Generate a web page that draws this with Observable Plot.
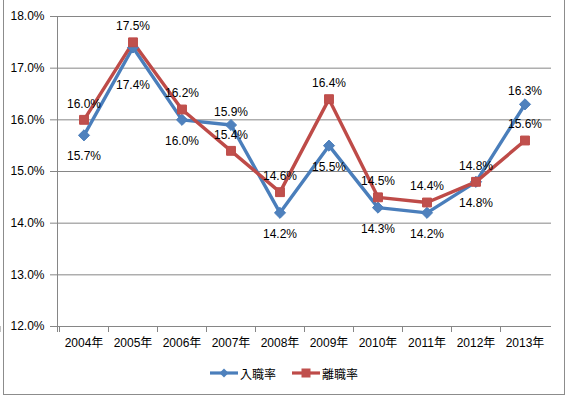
<!DOCTYPE html>
<html><head><meta charset="utf-8">
<script src="https://cdn.jsdelivr.net/npm/d3@7"></script>
<script src="https://cdn.jsdelivr.net/npm/@observablehq/plot@0.6"></script>
<style>
body{margin:0;background:#fff;}
#wrap{position:relative;width:569px;height:396px;overflow:hidden;font-family:"Liberation Sans","Noto Sans CJK JP",sans-serif;}
#chart{position:absolute;left:0;top:0;}
#frame{position:absolute;left:3px;top:-2px;width:562px;height:397px;border:1px solid #8c8c8c;box-sizing:border-box;z-index:5;pointer-events:none;}
#legend{position:absolute;top:364px;left:0;width:569px;height:18px;font-size:12px;color:#000;z-index:4;}
.li{position:absolute;top:0;display:flex;align-items:center;height:18px;}
</style></head>
<body><div id="wrap"><div id="chart"></div><div id="legend"></div><div id="frame"></div></div>
<script>
const years = ["2004年","2005年","2006年","2007年","2008年","2009年","2010年","2011年","2012年","2013年"];
const nyushoku = [15.7,17.4,16.0,15.9,14.2,15.5,14.3,14.2,14.8,16.3];
const rishoku = [16.0,17.5,16.2,15.4,14.6,16.4,14.5,14.4,14.8,15.6];
const nyushokuLabelPos = ["below","far","below","above","below","below","below","below","below","above"];
const seriesNames = ["入職率","離職率"];
const yTicks = [12,13,14,15,16,17,18];

const blue = "#4A7EBB", red = "#BE4B48";
const labelDy = {below: 21, far: 38, above: -13};
const A = years.map((x,i)=>({x, y:nyushoku[i], pos:nyushokuLabelPos[i]}));
const B = years.map((x,i)=>({x, y:rishoku[i]}));
const fmt = v => v.toFixed(1) + "%";

const axesLines = (index, scales, values, dims) => {
  const g = d3.create("svg:g").attr("stroke", "#868686");
  const x = scales.x, bw = x.bandwidth;
  const xl = dims.marginLeft;
  const y0 = dims.height - dims.marginBottom;
  g.append("line").attr("x1", xl + 0.5).attr("x2", xl + 0.5).attr("y1", dims.marginTop).attr("y2", y0 + 6);
  for (const t of yTicks) g.append("line").attr("x1", xl - 7).attr("x2", xl).attr("y1", scales.y(t) + 0.5).attr("y2", scales.y(t) + 0.5);
  const xs = years.map(d => x(d)).concat([x(years[years.length-1]) + bw]);
  for (const xv of xs) g.append("line").attr("x1", Math.round(xv) + 0.5).attr("x2", Math.round(xv) + 0.5).attr("y1", y0).attr("y2", y0 + 6);
  return g.node();
};

const chart = Plot.plot({
  width: 569, height: 396,
  marginLeft: 57, marginRight: 18, marginTop: 16, marginBottom: 70,
  style: {fontFamily: '"Liberation Sans","Noto Sans CJK JP",sans-serif', fontSize: "12px", background: "transparent", color: "#000"},
  x: {type: "band", domain: years, padding: 0, label: null},
  y: {domain: [12, 18], ticks: yTicks, label: null},
  marks: [
    Plot.ruleY(yTicks, {stroke: "#868686", strokeOpacity: 1}),
    axesLines,
    Plot.axisY(yTicks, {tickSize: 0, tickPadding: 13, tickFormat: v => v.toFixed(1) + "%", fontSize: 12}),
    Plot.axisX({tickSize: 0, tickPadding: 12, fontSize: 12}),
    Plot.line(A, {x: "x", y: "y", stroke: blue, strokeWidth: 3.4}),
    Plot.line(B, {x: "x", y: "y", stroke: red, strokeWidth: 3.4}),
    Plot.dot(A, {x: "x", y: "y", symbol: "diamond2", r: 5, fill: "#4F81BD", stroke: blue, strokeWidth: 1}),
    Plot.dot(B, {x: "x", y: "y", symbol: "square", r: 5, fill: "#C0504D", stroke: red, strokeWidth: 1}),
    ...Object.keys(labelDy).map(p => Plot.text(A.filter(d => d.pos === p), {x: "x", y: "y", text: d => fmt(d.y), dy: labelDy[p], fontSize: 12, fill: "#000"})),
    Plot.text(B, {x: "x", y: "y", text: d => fmt(d.y), dy: -16, fontSize: 12, fill: "#000"})
  ]
});
document.getElementById("chart").appendChild(chart);

const legend = document.getElementById("legend");
const items = [
  {name: seriesNames[0], color: blue, fill: "#4F81BD", sym: "diamond", left: 210},
  {name: seriesNames[1], color: red, fill: "#C0504D", sym: "square", left: 292}
];
for (const it of items) {
  const d = document.createElement("div");
  d.className = "li";
  d.style.left = it.left + "px";
  const marker = it.sym === "diamond"
    ? `<path d="M14 4.5 L18.5 9 L14 13.5 L9.5 9 Z" fill="${it.fill}"/>`
    : `<rect x="9.5" y="4.5" width="9" height="9" fill="${it.fill}"/>`;
  d.innerHTML = `<svg width="29" height="18"><line x1="0" x2="28" y1="9" y2="9" stroke="${it.color}" stroke-width="3.2"/>${marker}</svg><span style="margin-left:1px">${it.name}</span>`;
  legend.appendChild(d);
}
</script></body></html>
